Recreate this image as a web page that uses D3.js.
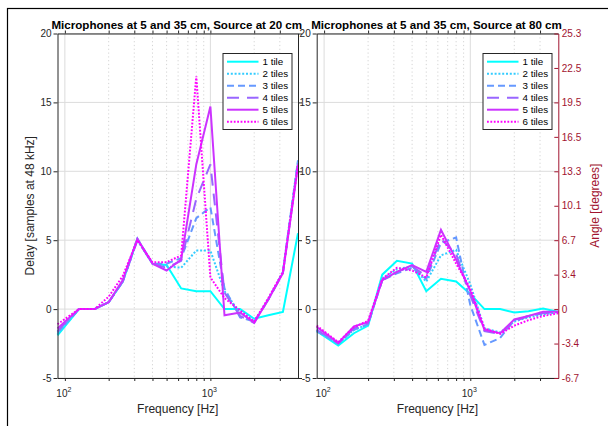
<!DOCTYPE html>
<html>
<head>
<meta charset="utf-8">
<script src="https://cdn.jsdelivr.net/npm/d3@7"></script>
<style>
  body { margin: 0; background: #fff; }
  svg { display: block; font-family: "Liberation Sans", Arial, Helvetica, sans-serif; }
</style>
</head>
<body>
<div id="chart"></div>
<script>
// band centre frequencies [Hz]
const freqs = [89, 125, 160, 200, 250, 315, 400, 500, 630, 800, 1000, 1250, 1600, 2000, 2500, 3150, 4000];
const seriesNames = ["1 tile", "2 tiles", "3 tiles", "4 tiles", "5 tiles", "6 tiles"];

// delay in samples, source at 20 cm
const src20Tile1 = [-1.9, 0, 0, 0.5, 2.0, 5.1, 3.3, 3.2, 1.5, 1.3, 1.3, 0, 0, -0.7, -0.45, -0.2, 5.5];
const src20Tile2 = [-1.8, 0, 0, 0.5, 2.0, 5.0, 3.3, 3.1, 3.0, 4.25, 4.25, 1.3, -0.3, -0.9, 0.7, 2.7, 10.8];
const src20Tile3 = [-1.7, 0, 0, 0.5, 2.0, 5.1, 3.3, 3.3, 3.7, 6.6, 7.4, 1.5, -0.6, -0.9, 0.7, 2.7, 10.8];
const src20Tile4 = [-1.6, 0, 0, 0.5, 2.0, 5.0, 3.3, 3.0, 3.5, 8.0, 10.5, 1.2, -0.5, -1.0, 0.7, 2.6, 10.6];
const src20Tile5 = [-1.4, 0, 0, 0.5, 2.1, 5.1, 3.3, 2.8, 3.6, 10.5, 14.7, -0.45, -0.25, -1.0, 0.7, 2.6, 10.4];
const src20Tile6 = [-1.1, 0, 0, 0.9, 2.4, 5.0, 3.4, 3.4, 3.9, 16.9, 2.3, 0.8, -0.1, -0.9, 0.8, 2.7, 10.5];

// delay in samples, source at 80 cm
const src80Tile1 = [-1.6, -2.65, -1.75, -1.2, 2.5, 3.5, 3.3, 1.3, 2.2, 2.0, 1.1, 0, 0, -0.25, -0.15, 0.05, -0.2];
const src80Tile2 = [-1.5, -2.5, -1.5, -1.1, 2.2, 2.9, 3.1, 2.0, 3.9, 4.3, 1.8, -1.4, -1.7, -0.9, -0.6, -0.4, -0.2];
const src80Tile3 = [-1.6, -2.5, -1.5, -1.1, 2.1, 2.6, 3.0, 2.2, 4.8, 5.2, 0.3, -2.6, -2.1, -0.8, -0.5, -0.3, -0.2];
const src80Tile4 = [-1.5, -2.5, -1.4, -1.0, 2.1, 2.7, 3.1, 2.4, 5.1, 4.0, 1.0, -1.6, -1.8, -0.9, -0.5, -0.3, -0.2];
const src80Tile5 = [-1.3, -2.45, -1.25, -0.95, 2.1, 2.7, 3.2, 2.7, 5.75, 3.6, 1.3, -1.5, -1.75, -0.75, -0.5, -0.2, -0.2];
const src80Tile6 = [-1.2, -2.4, -1.3, -0.85, 2.2, 3.0, 2.8, 2.3, 5.4, 3.3, 1.5, -1.4, -1.8, -1.2, -0.8, -0.5, -0.3];

// axis ticks
const yTicks = [-5, 0, 5, 10, 15, 20];
const xMajorTicks = [100, 1000];
const xMinorTicks = [200, 300, 400, 500, 600, 700, 800, 900, 2000, 3000];
const angleTickValues = [-5, -2.5, 0, 2.5, 5, 7.5, 10, 12.5, 15, 17.5, 20];
const angleTickLabels = ["-6.7", "-3.4", "0", "3.4", "6.7", "10.1", "13.3", "16.5", "19.5", "22.5", "25.3"];

// line styles (cool colormap)
const colors = ["#00ffff", "#33ccff", "#6699ff", "#9966ff", "#cc33ff", "#ff00ff"];
const dashes = [null, "2,1.8", "7,4", "12,8", null, "1.8,1.6"];

const W = 608, H = 426;
const axisColor = "#262626";
const angleColor = "#a2142f";
const yTop = 33.5, yBottom = 378;

const svg = d3.select("#chart").append("svg").attr("width", W).attr("height", H);
svg.append("rect").attr("width", W).attr("height", H).attr("fill", "#fff");

// figure frame
svg.append("rect")
  .attr("x", 7.5).attr("y", 8.5)
  .attr("width", W + 20).attr("height", H + 20)
  .attr("fill", "none").attr("stroke", "#000").attr("stroke-width", 1.2);

const y = d3.scaleLinear().domain([-5, 20]).range([yBottom, yTop]);

function styleAxis(g, color) {
  g.select(".domain").attr("stroke", color);
  g.selectAll(".tick line").attr("stroke", color);
  g.selectAll(".tick text")
    .attr("fill", color)
    .style("font-size", "10px")
    .style("font-family", "'Liberation Sans', Arial, sans-serif");
}

function drawPanel(cfg) {
  const x = d3.scaleLog().domain([89, 4000]).range([cfg.left, cfg.right]);
  const g = svg.append("g");
  const allXTicks = xMajorTicks.concat(xMinorTicks);

  // grid
  g.selectAll(".minor-grid").data(xMinorTicks).join("line")
    .attr("x1", (d) => x(d)).attr("x2", (d) => x(d))
    .attr("y1", yTop).attr("y2", yBottom)
    .attr("stroke", "#c9c9c9").attr("stroke-width", 0.8)
    .attr("stroke-dasharray", "1.2,2.6");
  g.selectAll(".major-grid-x").data(xMajorTicks).join("line")
    .attr("x1", (d) => x(d)).attr("x2", (d) => x(d))
    .attr("y1", yTop).attr("y2", yBottom)
    .attr("stroke", "#dcdcdc").attr("stroke-width", 1);
  g.selectAll(".major-grid-y").data(yTicks).join("line")
    .attr("x1", cfg.left).attr("x2", cfg.right)
    .attr("y1", (d) => y(d)).attr("y2", (d) => y(d))
    .attr("stroke", "#dcdcdc").attr("stroke-width", 1);

  // data lines
  const line = d3.line().x((d, i) => x(freqs[i])).y((d) => y(d));
  g.selectAll(".series").data(cfg.series).join("path")
    .attr("d", line)
    .attr("fill", "none")
    .attr("stroke", (d, i) => colors[i])
    .attr("stroke-width", 2)
    .attr("stroke-dasharray", (d, i) => dashes[i]);

  // axes (box)
  const bottom = g.append("g").attr("transform", `translate(0,${yBottom})`)
    .call(d3.axisBottom(x).tickValues(allXTicks).tickFormat("").tickSize(3).tickSizeOuter(0));
  styleAxis(bottom, axisColor);
  const top = g.append("g").attr("transform", `translate(0,${yTop})`)
    .call(d3.axisTop(x).tickValues(allXTicks).tickFormat("").tickSize(3).tickSizeOuter(0));
  styleAxis(top, axisColor);
  const left = g.append("g").attr("transform", `translate(${cfg.left},0)`)
    .call(d3.axisLeft(y).tickValues(yTicks).tickFormat((d) => String(d)).tickSize(4).tickPadding(2).tickSizeOuter(0));
  styleAxis(left, axisColor);

  if (cfg.angleAxis) {
    const right = g.append("g").attr("transform", `translate(${cfg.right},0)`)
      .call(d3.axisRight(y).tickValues(angleTickValues)
        .tickFormat((d, i) => angleTickLabels[i]).tickSize(-4).tickPadding(3.5).tickSizeOuter(0));
    styleAxis(right, angleColor);
    svg.append("text")
      .attr("transform", `translate(599,${(yTop + yBottom) / 2}) rotate(-90)`)
      .attr("text-anchor", "middle")
      .attr("fill", angleColor)
      .style("font-size", "12px")
      .text("Angle [degrees]");
  } else {
    const right = g.append("g").attr("transform", `translate(${cfg.right},0)`)
      .call(d3.axisRight(y).tickValues(yTicks).tickFormat("").tickSize(4).tickSizeOuter(0));
    styleAxis(right, axisColor);
  }

  // x tick labels 10^n
  const xl = g.selectAll(".xlab").data(xMajorTicks).join("text")
    .attr("x", (d) => x(d) - 1)
    .attr("y", 396.5)
    .attr("text-anchor", "middle")
    .attr("fill", axisColor)
    .style("font-size", "10px");
  xl.append("tspan").text("10");
  xl.append("tspan").attr("dy", -5).style("font-size", "7px")
    .text((d) => Math.round(Math.log10(d)));

  // x label
  g.append("text")
    .attr("x", (cfg.left + cfg.right) / 2)
    .attr("y", 412.5)
    .attr("text-anchor", "middle")
    .attr("fill", axisColor)
    .style("font-size", "12px")
    .text("Frequency [Hz]");

  // title
  g.append("text")
    .attr("x", (cfg.left + cfg.right) / 2 - 1)
    .attr("y", 28.5)
    .attr("text-anchor", "middle")
    .attr("fill", "#000")
    .style("font-size", "11.6px")
    .style("font-weight", "bold")
    .text(cfg.title);

  // legend
  const lg = g.append("g").attr("transform", `translate(${cfg.legendX},53.5)`);
  lg.append("rect")
    .attr("width", 69).attr("height", 76)
    .attr("fill", "#fff").attr("stroke", axisColor).attr("stroke-width", 1);
  const items = lg.selectAll(".item").data(seriesNames).join("g")
    .attr("transform", (d, i) => `translate(0,${8.2 + i * 12})`);
  items.append("line")
    .attr("x1", 4).attr("x2", 35.5)
    .attr("stroke", (d, i) => colors[i])
    .attr("stroke-width", 2)
    .attr("stroke-dasharray", (d, i) => dashes[i]);
  items.append("text")
    .attr("x", 39.5).attr("y", 3.5)
    .attr("fill", "#000")
    .style("font-size", "9.8px")
    .text((d) => d);
}

drawPanel({
  left: 57.5, right: 298,
  title: "Microphones at 5 and 35 cm, Source at 20 cm",
  series: [src20Tile1, src20Tile2, src20Tile3, src20Tile4, src20Tile5, src20Tile6],
  legendX: 223,
  angleAxis: false,
});

drawPanel({
  left: 316.7, right: 558.3,
  title: "Microphones at 5 and 35 cm, Source at 80 cm",
  series: [src80Tile1, src80Tile2, src80Tile3, src80Tile4, src80Tile5, src80Tile6],
  legendX: 483,
  angleAxis: true,
});

// y label
svg.append("text")
  .attr("transform", `translate(34,${(yTop + yBottom) / 2}) rotate(-90)`)
  .attr("text-anchor", "middle")
  .attr("fill", axisColor)
  .style("font-size", "12px")
  .text("Delay [samples at 48 kHz]");
</script>
</body>
</html>
